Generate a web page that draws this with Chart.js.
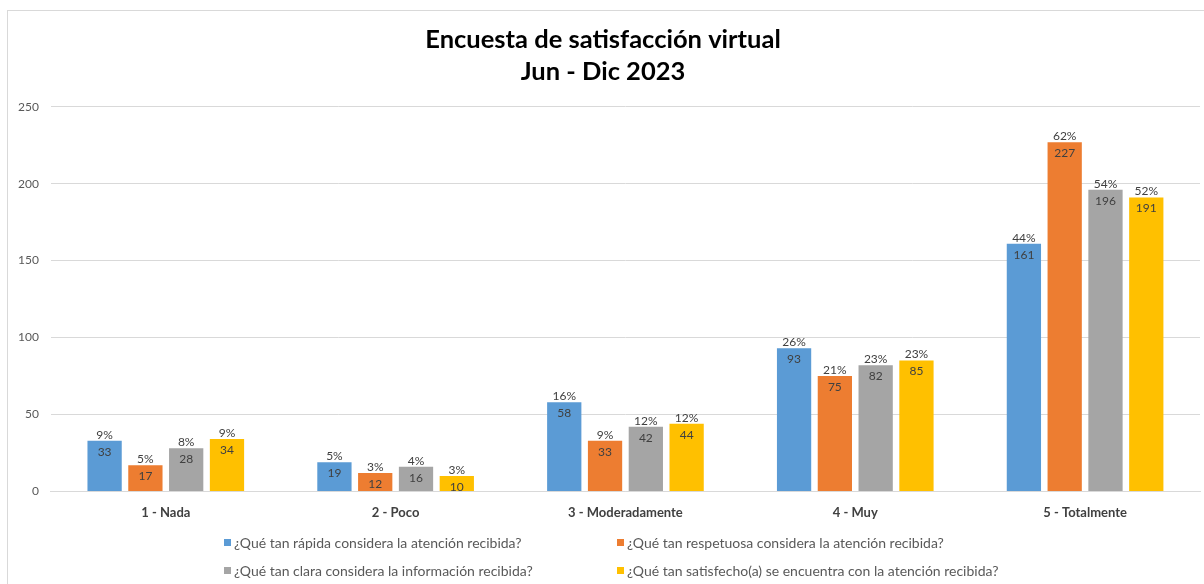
<!DOCTYPE html>
<html>
<head>
<meta charset="utf-8">
<script src="https://cdn.jsdelivr.net/npm/chart.js@4.4.1/dist/chart.umd.min.js"></script>
<style>
  html, body { margin: 0; padding: 0; background: #fff; overflow: hidden; }
  #frame { position: absolute; left: 7px; top: 10px; width: 1400px; height: 800px; border: 1px solid #d9d9d9; }
  #wrap { position: absolute; left: 0; top: 0; width: 1204px; height: 584px; }
  #legend { position: absolute; left: 0; top: 0; width: 1204px; height: 584px; pointer-events: none;
            font-family: Lato, "Open Sans", sans-serif; font-size: 14px; color: #595959; }
  .item { position: absolute; white-space: nowrap; display: flex; align-items: center; height: 18px; }
  .sw { width: 7px; height: 7px; margin-right: 3px; display: inline-block; }
</style>
</head>
<body>
<div id="frame"></div>
<div id="wrap"><canvas id="c" width="1204" height="584"></canvas></div>
<div id="legend"></div>
<script>
// ---- data ----
const categories = ["1 - Nada", "2 - Poco", "3 - Moderadamente", "4 - Muy", "5 - Totalmente"];
const seriesNames = [
  "¿Qué tan rápida considera la atención recibida?",
  "¿Qué tan respetuosa considera la atención recibida?",
  "¿Qué tan clara considera la información recibida?",
  "¿Qué tan satisfecho(a) se encuentra con la atención recibida?"
];
const rapida     = [33, 19, 58, 93, 161];
const respetuosa = [17, 12, 33, 75, 227];
const clara      = [28, 16, 42, 82, 196];
const satisfecho = [34, 10, 44, 85, 191];
const pctRapida     = [9, 5, 16, 26, 44];
const pctRespetuosa = [5, 3, 9, 21, 62];
const pctClara      = [8, 4, 12, 23, 54];
const pctSatisfecho = [9, 3, 12, 23, 52];
const yTicks = [0, 50, 100, 150, 200, 250];
const colors = ["#5B9BD5", "#ED7D31", "#A5A5A5", "#FFC000"];

const seriesValues = [rapida, respetuosa, clara, satisfecho];
const seriesPct = [pctRapida, pctRespetuosa, pctClara, pctSatisfecho];

const FONT = 'Lato, "Open Sans", sans-serif';

const barLabels = {
  id: 'barLabels',
  afterDatasetsDraw(chart) {
    const ctx = chart.ctx;
    ctx.save();
    ctx.font = '12px ' + FONT;
    ctx.fillStyle = '#404040';
    ctx.textAlign = 'center';
    ctx.textBaseline = 'middle';
    chart.data.datasets.forEach((ds, i) => {
      const meta = chart.getDatasetMeta(i);
      meta.data.forEach((bar, j) => {
        ctx.fillText(seriesPct[i][j] + '%', bar.x, bar.y - 6);
        ctx.fillText(String(ds.data[j]), bar.x, bar.y + 11);
      });
    });
    ctx.restore();
  }
};

const chart = new Chart(document.getElementById('c'), {
  type: 'bar',
  data: {
    labels: categories,
    datasets: seriesValues.map((v, i) => ({
      label: seriesNames[i],
      data: v,
      backgroundColor: colors[i],
      barPercentage: 0.84,
      categoryPercentage: 0.71
    }))
  },
  options: {
    responsive: false,
    animation: false,
    devicePixelRatio: 1,
    layout: { padding: { left: 6, right: 4, top: 0, bottom: 49 } },
    plugins: {
      legend: { display: false },
      tooltip: { enabled: false },
      title: {
        display: true,
        text: ["Encuesta de satisfacción virtual", "Jun - Dic 2023"],
        color: '#000',
        font: { family: FONT, size: 25.5, weight: 'bold', lineHeight: 1.25 },
        padding: { top: 24, bottom: 19 }
      }
    },
    scales: {
      x: {
        grid: { display: false, drawTicks: false },
        border: { display: true, color: '#d9d9d9', width: 1 },
        ticks: { color: '#404040', font: { family: FONT, size: 13, weight: 'bold' }, padding: 14 }
      },
      y: {
        min: 0, max: 250,
        afterBuildTicks(axis) { axis.ticks = yTicks.map(v => ({ value: v })); },
        grid: { color: '#d9d9d9', drawTicks: false },
        border: { display: false },
        ticks: { color: '#595959', font: { family: FONT, size: 12 }, padding: 12 }
      }
    }
  },
  plugins: [barLabels]
});

// HTML legend (2 x 2 grid)
const legend = document.getElementById('legend');
const cols = [224, 617];
const rows = [533, 561];
seriesNames.forEach((name, i) => {
  const d = document.createElement('div');
  d.className = 'item';
  d.style.left = cols[i % 2] + 'px';
  d.style.top = rows[Math.floor(i / 2)] + 'px';
  const sw = document.createElement('span');
  sw.className = 'sw';
  sw.style.background = colors[i];
  d.appendChild(sw);
  d.appendChild(document.createTextNode(name));
  legend.appendChild(d);
});
</script>
</body>
</html>
